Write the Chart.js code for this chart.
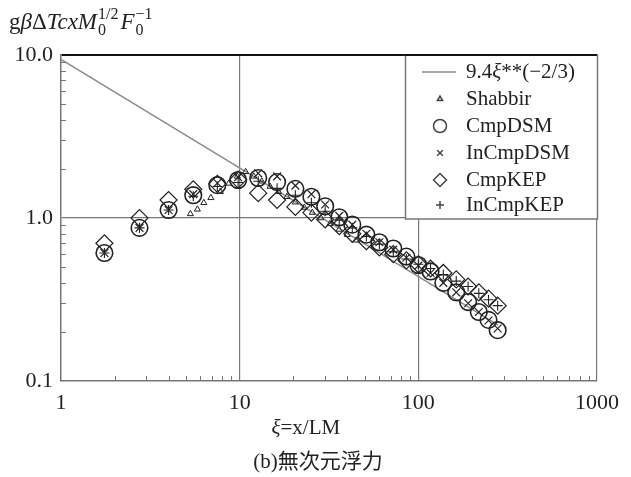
<!DOCTYPE html>
<html>
<head>
<meta charset="utf-8">
<script src="https://cdn.jsdelivr.net/npm/chart.js@4.4.0/dist/chart.umd.min.js"></script>
<style>
  html, body { margin: 0; padding: 0; background: #fff; }
  #wrap { width: 631px; height: 477px; }
</style>
</head>
<body>
<div id="wrap"><canvas id="chart" width="631" height="477"></canvas></div>
<script>
// values
const lineXi = [1, 280];
const lineY = [9.4, 0.22];

const shabbirXi = [5.3, 5.8, 6.3, 6.9, 7.8, 8.7, 9.7, 10.8, 12.0, 13.3, 14.8, 16.5, 18.4, 20.5, 23.0, 25.5, 28.5, 32.0, 36.0, 40.0, 45.0];
const shabbirY = [1.06, 1.13, 1.24, 1.33, 1.45, 1.63, 1.80, 1.92, 1.80, 1.68, 1.56, 1.45, 1.35, 1.25, 1.16, 1.08, 1.00, 0.92, 0.85, 0.79, 0.73];

const modelXi = [1.75, 2.75, 4.0, 5.5, 7.5, 9.8, 12.7, 16.2, 20.5, 25.2, 30.1, 36.1, 42.7, 51.2, 60.5, 72.4, 85.7, 100, 117, 138, 163, 190, 218, 247, 278];
const cmpDSM   = [0.61, 0.87, 1.12, 1.38, 1.59, 1.71, 1.76, 1.66, 1.51, 1.35, 1.18, 1.01, 0.91, 0.79, 0.71, 0.65, 0.58, 0.515, 0.47, 0.40, 0.35, 0.305, 0.265, 0.237, 0.205];
const inCmpDSM = [0.61, 0.87, 1.12, 1.40, 1.64, 1.78, 1.88, 1.80, 1.58, 1.40, 1.21, 1.03, 0.91, 0.80, 0.71, 0.64, 0.57, 0.51, 0.46, 0.40, 0.35, 0.30, 0.265, 0.235, 0.21];
const cmpKEP   = [0.70, 1.00, 1.29, 1.50, 1.62, 1.72, 1.42, 1.29, 1.17, 1.08, 0.98, 0.89, 0.80, 0.72, 0.66, 0.60, 0.55, 0.52, 0.49, 0.46, 0.42, 0.38, 0.35, 0.32, 0.29];
const inCmpKEP = [0.61, 0.87, 1.12, 1.36, 1.56, 1.65, 1.68, 1.52, 1.38, 1.24, 1.10, 0.97, 0.87, 0.77, 0.69, 0.62, 0.56, 0.52, 0.49, 0.45, 0.41, 0.38, 0.345, 0.315, 0.29];

const seriesNames = ['9.4ξ**(−2/3)', 'Shabbir', 'CmpDSM', 'InCmpDSM', 'CmpKEP', 'InCmpKEP'];

const xTicks = [1, 10, 100, 1000];
const xTickLabels = ['1', '10', '100', '1000'];
const yTicks = [0.1, 1, 10];
const yTickLabels = ['0.1', '1.0', '10.0'];
const minorSteps = [2, 3, 4, 5, 6, 7, 8, 9];

const SERIF = '"Liberation Serif", "DejaVu Serif", serif';
const INK = '#222';

const pts = (xs, ys) => xs.map((x, i) => ({ x: x, y: ys[i] }));

function markerSet(label, xs, ys, style, r, bw) {
    return {
        label: label,
        data: pts(xs, ys),
        showLine: false,
        pointStyle: style,
        pointRadius: r,
        pointBorderWidth: bw,
        pointBorderColor: INK,
        pointBackgroundColor: 'rgba(0,0,0,0)',
        order: 1
    };
}

const datasets = [
    {
        label: seriesNames[0],
        data: pts(lineXi, lineY),
        showLine: true,
        borderColor: '#8a8a8a',
        borderWidth: 1.5,
        pointRadius: 0,
        order: 10
    },
    markerSet(seriesNames[1], shabbirXi, shabbirY, 'triangle', 3.5, 1),
    markerSet(seriesNames[2], modelXi, cmpDSM, 'circle', 8.3, 1.6),
    markerSet(seriesNames[3], modelXi, inCmpDSM, 'crossRot', 5.5, 1.2),
    markerSet(seriesNames[4], modelXi, cmpKEP, 'rectRot', 8.5, 1.2),
    markerSet(seriesNames[5], modelXi, inCmpKEP, 'cross', 5, 1.1)
];

// legend sizes for the little symbols
const legendRadius = [0, 3, 6.5, 4, 6.5, 4];

// draws text pieces one after the other: [text, font, dy]
function drawRun(ctx, x, y, parts) {
    let cx = x;
    parts.forEach(p => {
        ctx.font = p[1];
        ctx.fillText(p[0], cx, y + (p[2] || 0));
        cx += ctx.measureText(p[0]).width;
    });
    return cx;
}

const extras = {
    id: 'extras',
    afterDraw(chart) {
        const ctx = chart.ctx;
        const xs = chart.scales.x, ys = chart.scales.y;
        const area = chart.chartArea;
        ctx.save();

        // inward minor ticks
        ctx.strokeStyle = '#777';
        ctx.lineWidth = 1;
        ctx.beginPath();
        [1, 10, 100].forEach(d => minorSteps.forEach(k => {
            const px = Math.round(xs.getPixelForValue(d * k)) + 0.5;
            ctx.moveTo(px, area.bottom);
            ctx.lineTo(px, area.bottom - 5);
        }));
        [0.1, 1].forEach(d => minorSteps.forEach(k => {
            const py = Math.round(ys.getPixelForValue(d * k)) + 0.5;
            ctx.moveTo(area.left, py);
            ctx.lineTo(area.left + 5, py);
        }));
        ctx.stroke();

        // legend box
        const bx = 405, by = area.top, bw = area.right - 405, bh = 164;
        ctx.fillStyle = '#fff';
        ctx.fillRect(bx, by + 1, bw, bh - 1);
        ctx.strokeStyle = '#777';
        ctx.lineWidth = 1.5;
        ctx.strokeRect(bx + 0.5, by, bw, bh);
        ctx.strokeStyle = '#111';
        ctx.lineWidth = 2;
        ctx.beginPath();
        ctx.moveTo(bx, by);
        ctx.lineTo(area.right, by);
        ctx.stroke();

        const LF = '21px ' + SERIF;
        const rows = [72, 99, 126, 153, 180, 205];
        chart.data.datasets.forEach((ds, i) => {
            const ry = rows[i];
            if (i === 0) {
                ctx.strokeStyle = ds.borderColor;
                ctx.lineWidth = 1.5;
                ctx.beginPath();
                ctx.moveTo(422, ry);
                ctx.lineTo(456, ry);
                ctx.stroke();
            } else {
                ctx.strokeStyle = '#444';
                ctx.fillStyle = 'rgba(0,0,0,0)';
                Chart.helpers.drawPoint(ctx, {
                    pointStyle: ds.pointStyle,
                    radius: legendRadius[i],
                    rotation: 0,
                    borderWidth: i === 2 ? 1.8 : 1
                }, 440, ry);
            }
            ctx.fillStyle = '#222';
            ctx.font = LF;
            ctx.textBaseline = 'middle';
            ctx.textAlign = 'left';
            if (i === 0) {
                drawRun(ctx, 466, ry, [
                    ['9.4', LF],
                    ['ξ', 'italic ' + LF],
                    ['**(−2/3)', LF]
                ]);
            } else {
                ctx.fillText(ds.label, 466, ry);
            }
        });

        // y-axis title
        ctx.fillStyle = '#222';
        ctx.textBaseline = 'alphabetic';
        ctx.textAlign = 'left';
        const big = 'italic 23px ' + SERIF, up = '23px ' + SERIF, sm = '16px ' + SERIF;
        let cx = drawRun(ctx, 9, 29, [
            ['g', up], ['β', big], ['Δ', up], ['TcxM', big]
        ]);
        ctx.font = sm;
        ctx.fillText('0', cx + 1, 35);
        ctx.fillText('1/2', cx + 1, 19);
        cx += ctx.measureText('1/2').width + 3;
        cx = drawRun(ctx, cx, 29, [['F', big]]);
        ctx.font = sm;
        ctx.fillText('0', cx + 1, 35);
        ctx.fillText('−1', cx + 1, 19);

        // x-axis title
        ctx.textAlign = 'left';
        ctx.textBaseline = 'middle';
        const TF = '21px ' + SERIF;
        ctx.font = TF;
        const tw = ctx.measureText('ξ=x/LM').width;
        drawRun(ctx, 306 - tw / 2, 428, [
            ['ξ', 'italic ' + TF], ['=x/LM', TF]
        ]);

        // caption
        ctx.textAlign = 'center';
        ctx.font = '21px "Liberation Serif", "Noto Sans CJK JP", serif';
        ctx.fillText('(b)無次元浮力', 318, 462);

        ctx.restore();
    }
};

const tickFont = { family: SERIF, size: 22 };

new Chart(document.getElementById('chart'), {
    type: 'scatter',
    data: { datasets: datasets },
    options: {
        responsive: false,
        animation: false,
        devicePixelRatio: 1,
        layout: { padding: { left: 0, right: 34, top: 55, bottom: 56 } },
        plugins: { legend: { display: false }, tooltip: { enabled: false } },
        scales: {
            x: {
                type: 'logarithmic',
                min: 1,
                max: 1000,
                afterBuildTicks: s => { s.ticks = xTicks.map(v => ({ value: v })); },
                afterFit: s => { s.height = 40; },
                ticks: {
                    autoSkip: false,
                    maxRotation: 0,
                    padding: 9,
                    color: '#222',
                    font: tickFont,
                    callback: v => xTickLabels[xTicks.indexOf(v)]
                },
                grid: {
                    drawTicks: false,
                    color: c => (c.tick && c.tick.value > 1) ? '#777' : 'rgba(0,0,0,0)',
                    lineWidth: 1.2
                },
                border: { color: '#777', width: 1.5 }
            },
            y: {
                type: 'logarithmic',
                min: 0.1,
                max: 10,
                afterBuildTicks: s => { s.ticks = yTicks.map(v => ({ value: v })); },
                afterFit: s => { s.width = 61; },
                ticks: {
                    padding: 8,
                    color: '#222',
                    font: tickFont,
                    callback: v => yTickLabels[yTicks.indexOf(v)]
                },
                grid: {
                    drawTicks: false,
                    color: c => {
                        if (!c.tick) return 'rgba(0,0,0,0)';
                        if (c.tick.value === 10) return '#111';
                        if (c.tick.value === 1) return '#777';
                        return 'rgba(0,0,0,0)';
                    },
                    lineWidth: c => (c.tick && c.tick.value === 10) ? 2 : 1.2
                },
                border: { color: '#777', width: 1.5 }
            }
        }
    },
    plugins: [extras]
});
</script>
</body>
</html>
